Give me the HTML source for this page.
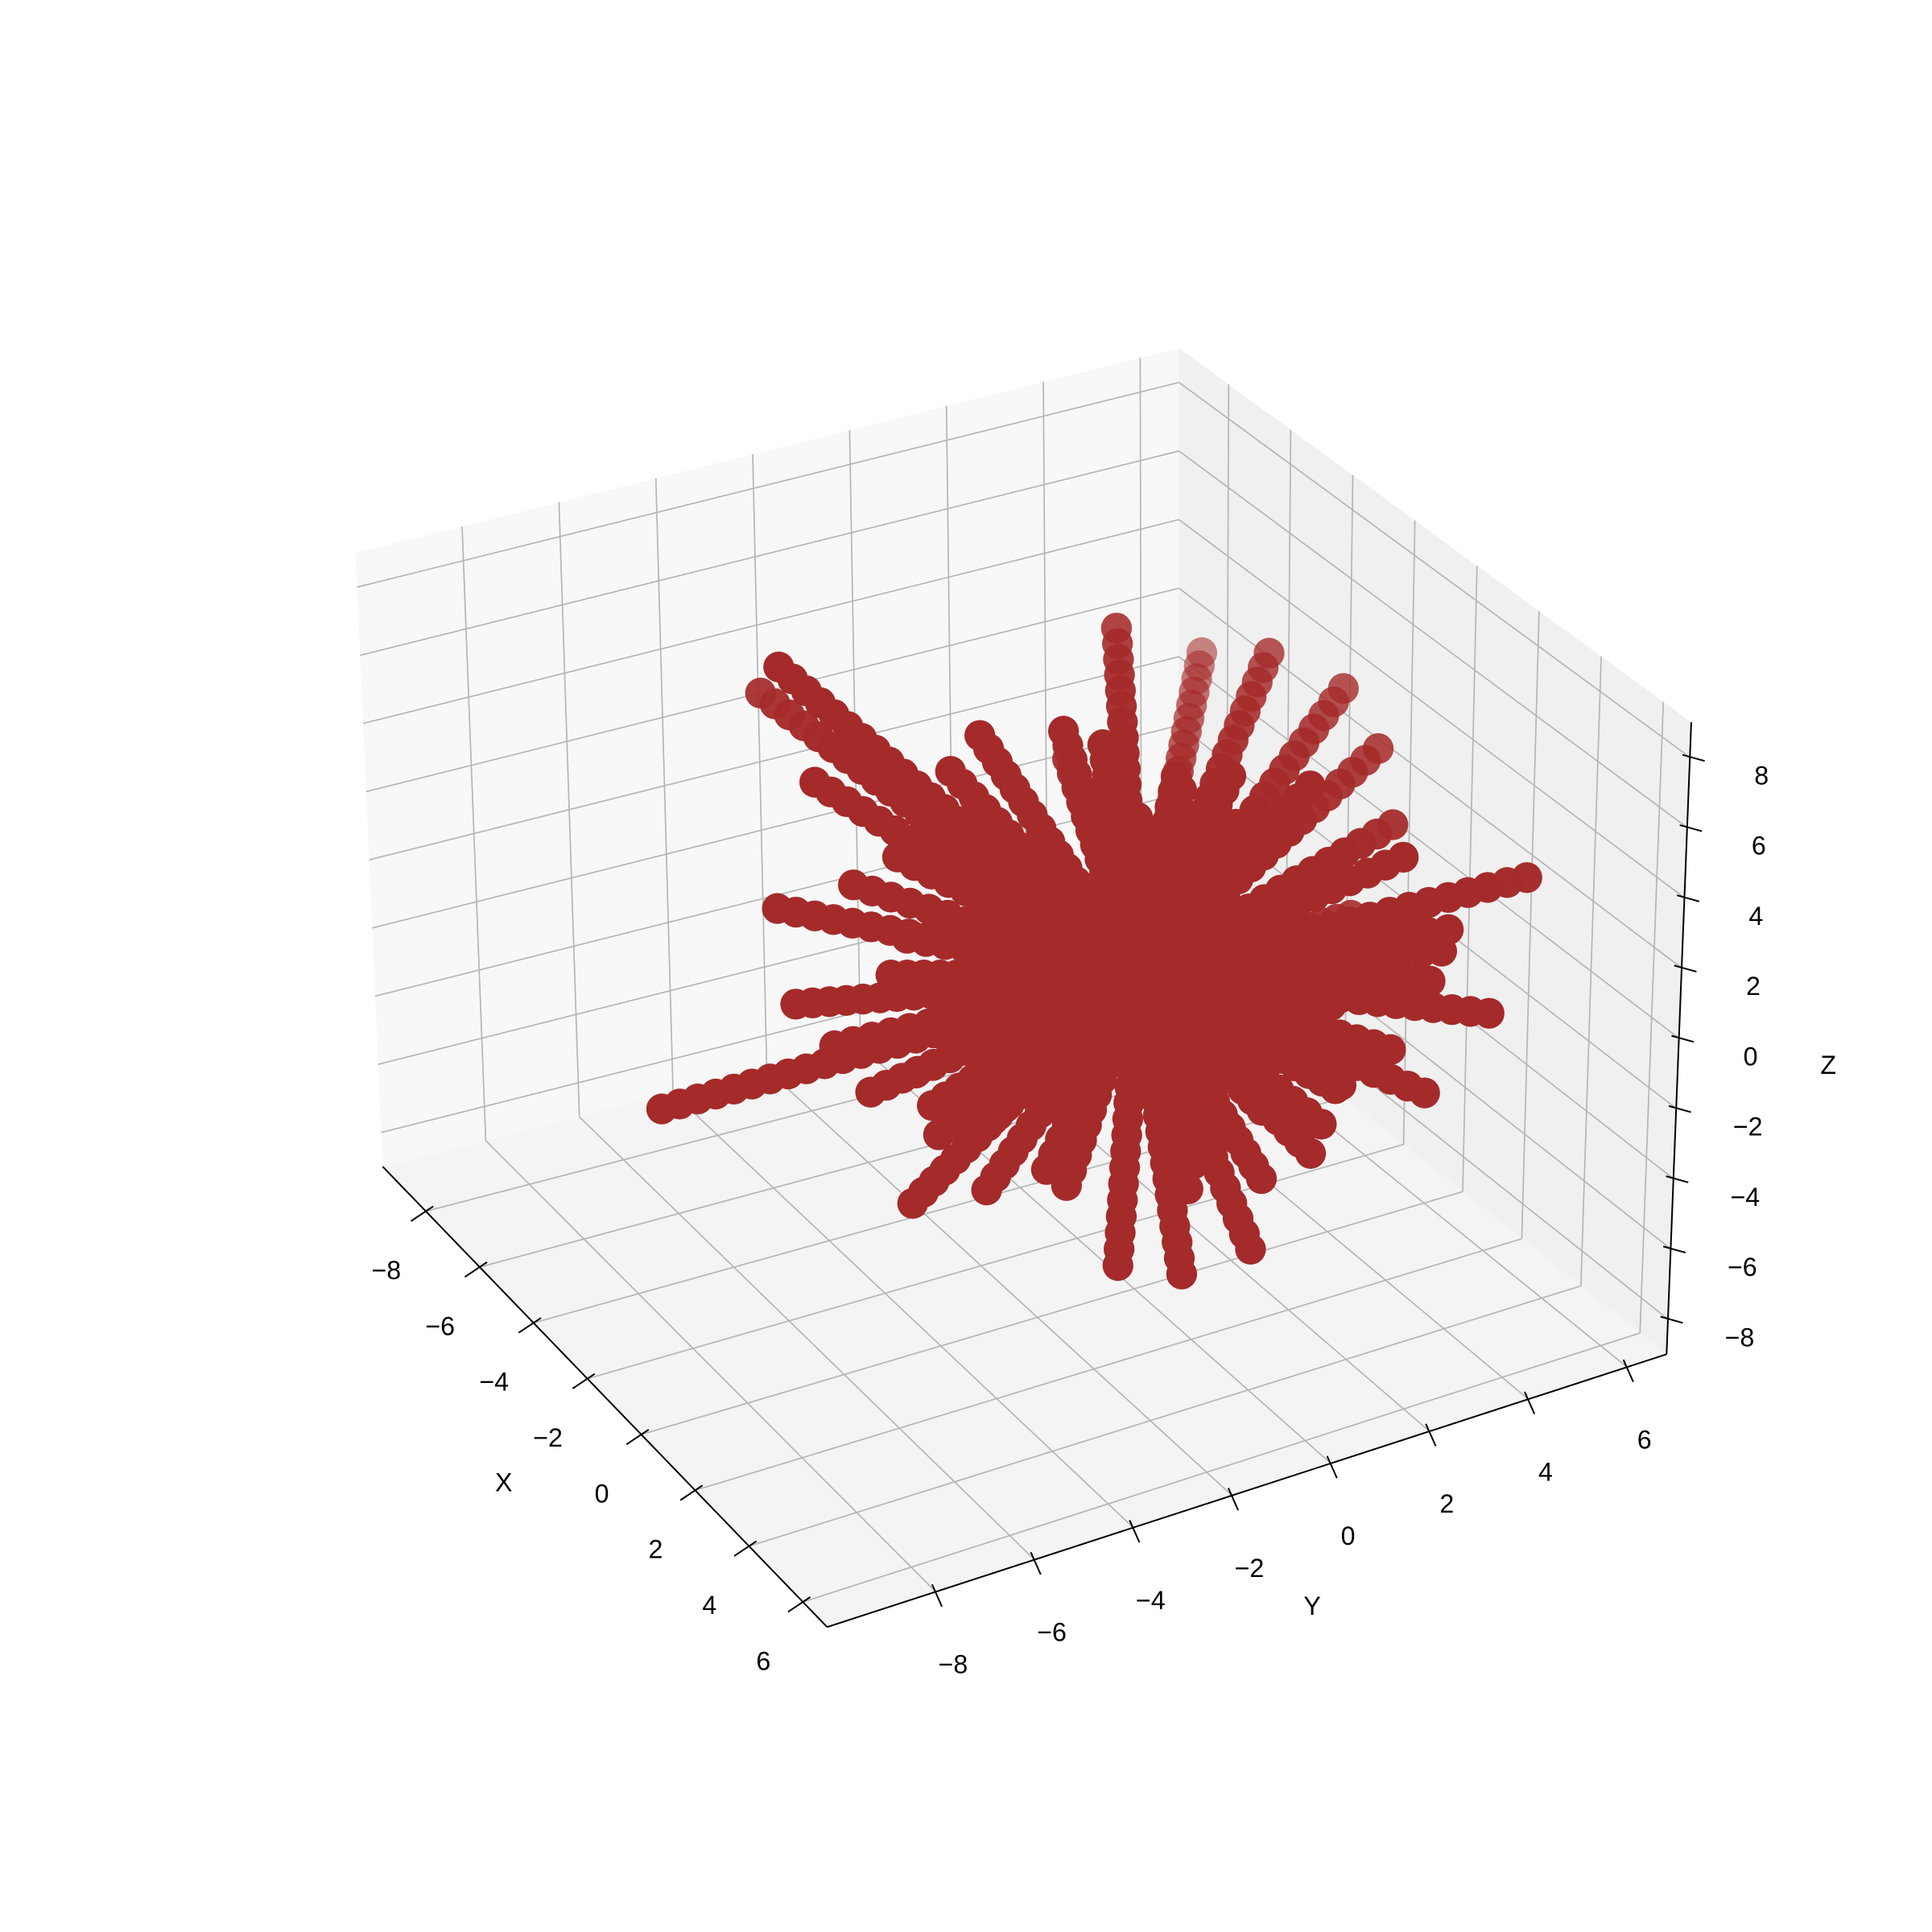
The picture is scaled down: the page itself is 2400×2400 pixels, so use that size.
<!DOCTYPE html>
<html><head><meta charset="utf-8"><style>
html,body{margin:0;padding:0;background:#fff}
svg{display:block}
text{font-family:"Liberation Sans","DejaVu Sans",sans-serif;font-size:21px;fill:#000}
</style></head><body>
<svg id="chart" width="2400" height="2400" viewBox="0 0 1565 1565" xmlns="http://www.w3.org/2000/svg">
<g id="panes"></g>
<g id="grid"></g>
<g id="axes"></g>
<g id="labels"></g>
<g id="points"></g>
<text x="408" y="1208" text-anchor="middle">X</text>
<text x="1063" y="1308" text-anchor="middle">Y</text>
<text x="1481" y="870" text-anchor="middle">Z</text>
</svg>
<script>
// ---- data ----
const xTicks=[-8,-6,-4,-2,0,2,4,6];
const yTicks=[-8,-6,-4,-2,0,2,4,6];
const zTicks=[-8,-6,-4,-2,0,2,4,6,8];
const rayX=[-3,-6,-6,-5,-5,3,4,4,3,2,2,2,2,2,3,0,-1,-2,2,-4,-3,-3,-2,-3,1,2,-6,-8,1,1,1,-4,3,3,
  -2,-1,1,2,-2,0,1,-1,2,-3,0,3,-1,1,-2,2,0,-2,1,-1,3,-3,0,2,-2,1,0,-1,2,-2,3,1,
  -3,-2,2,3,-1,1,0,-4,4,-2,2,-3,3,0,-1,1,-2,2,-4,3,1,-1,0,2,-3,-2,4,1,-1,2,0,-2,3,-3,1,-1];
const rayY=[-8,-3.7,-3,-4.4,-4.05,-6.3,-2.7,-1.4,-4.8,-3,1.4,2.4,6.7,6,4.1,5.2,5.5,5.4,4,2,4.5,-1.4,-0.3,-2,-6,-5.2,5,-2.9,4.8,4.1,5.4,-2.5,-0.7,-3,
  -3,-2,-1,0,1,2,3,3,-3,-1,-4,1,4,-2,3,2,0,-3.5,-3.5,2.5,-1.5,0,4,-0.5,-1,2,-2.5,1.5,3,2.5,0.5,-1.5,
  -4,4,-4,2,-2.5,3.5,-4.5,1,-1,-3,4.5,3,-3,3.5,-4,-2,0.5,-4.5,-1,3.5,4,5,-5,1,-1,2,0,-3,1.5,5,2,-5,4.5,-2,1];
const rayZ=[-2.9,6,2.4,0,-2.9,-1.75,-4.3,-5.1,-2,-2.9,-5,-4.7,1.4,-2.2,-3,2.2,3.6,4.7,-2.4,6.4,5.4,5.3,5.7,4.5,-0.2,-1,3.2,3.5,2.1,-0.8,-1.7,1.5,-3.7,-1.2,
  3,-3,4,-4,-3.5,3.5,0,-3,2,-4,1,3,-1,-3.5,-2,3,4.5,1,-2,4,2,-2.5,-2.5,-1.5,-1,-4,3.5,4,-3,1.5,0.5,2.5,
  2,-2,1,-3,4,-4,-1,3,-2,-4,1,-1,3,4,2,-4.5,5,0,-1,2,-3,-1,2,4.5,-4.5,3.5,-5,1,-2,0,3,-1.5,1.5,-3,-4.5,2.5];

// ---- projection ----
const X0=-9.6,X1=6.9,Y0=-10.2,Y1=6.8,Z0=-9,Z1=9;
const C={ '000':[310,945],'100':[670,1318],'010':[955,782],'110':[1350,1097],
          '001':[288,448],'101':[672,795],'011':[955,282],'111':[1370,585]};
function P(x,y,z){
  const u=(x-X0)/(X1-X0),v=(y-Y0)/(Y1-Y0),w=(z-Z0)/(Z1-Z0);
  let sx=0,sy=0;
  for(const k in C){
    const a=+k[0],b=+k[1],c=+k[2];
    const f=(a?u:1-u)*(b?v:1-v)*(c?w:1-w);
    sx+=f*C[k][0];sy+=f*C[k][1];
  }
  return [sx,sy];
}
const NS='http://www.w3.org/2000/svg';
function el(t,attrs,parent){const e=document.createElementNS(NS,t);for(const k in attrs)e.setAttribute(k,attrs[k]);parent.appendChild(e);return e;}
function poly(pts){return pts.map(p=>p[0].toFixed(1)+','+p[1].toFixed(1)).join(' ');}

const panes=document.getElementById('panes');
let pp=el('polygon',{points:poly([P(X0,Y0,Z0),P(X0,Y1,Z0),P(X0,Y1,Z1),P(X0,Y0,Z1)]),fill:'#f8f8f8'},panes);


pp=el('polygon',{points:poly([P(X0,Y1,Z0),P(X1,Y1,Z0),P(X1,Y1,Z1),P(X0,Y1,Z1)]),fill:'#f0f0f0'},panes);


pp=el('polygon',{points:poly([P(X0,Y0,Z0),P(X1,Y0,Z0),P(X1,Y1,Z0),P(X0,Y1,Z0)]),fill:'#f4f4f4'},panes);



const grid=document.getElementById('grid');
function gl(a,b,name){const p1=P(...a),p2=P(...b);
  const l=el('line',{x1:p1[0],y1:p1[1],x2:p2[0],y2:p2[1],stroke:'#b5b5b5','stroke-width':1.1},grid);
  
  }
yTicks.forEach(y=>{gl([X0,y,Z0],[X0,y,Z1],'grid-left-y');gl([X0,y,Z0],[X1,y,Z0],'grid-floor-y');});
xTicks.forEach(x=>{gl([x,Y1,Z0],[x,Y1,Z1],'grid-right-x');gl([x,Y0,Z0],[x,Y1,Z0],'grid-floor-x');});
zTicks.forEach(z=>{gl([X0,Y0,z],[X0,Y1,z],'grid-left-z');gl([X0,Y1,z],[X1,Y1,z],'grid-right-z');});

const axes=document.getElementById('axes');
function al(p1,p2,name,w){const l=el('line',{x1:p1[0],y1:p1[1],x2:p2[0],y2:p2[1],stroke:'#000','stroke-width':w||1.3},axes);
  
  }
al(P(X0,Y0,Z0),P(X1,Y0,Z0),'x-axis-line');
al(P(X1,Y0,Z0),P(X1,Y1,Z0),'y-axis-line');
al(P(X1,Y1,Z0),P(X1,Y1,Z1),'z-axis-line');
const labels=document.getElementById('labels');
function lab(p,txt,name){const t=el('text',{x:p[0].toFixed(1),y:p[1].toFixed(1),'text-anchor':'middle'},labels);t.textContent=txt;
  
  }
function fmt(v){return v<0?'\u2212'+Math.abs(v):String(v);}
xTicks.forEach(x=>{const p=P(x,Y0,Z0);al([p[0]+6,p[1]-4],[p[0]-12,p[1]+8],'x-tick');lab([p[0]-32,p[1]+55],fmt(x),'x-tick-label');});
yTicks.forEach(y=>{const p=P(X1,y,Z0);al([p[0]-3,p[1]-6],[p[0]+5,p[1]+12],'y-tick');lab([p[0]+14,p[1]+66],fmt(y),'y-tick-label');});
zTicks.forEach(z=>{const p=P(X1,Y1,z);al([p[0]-6,p[1]-2],[p[0]+12,p[1]+3],'z-tick');lab([p[0]+58,p[1]+22],fmt(z),'z-tick-label');});

// ---- scatter points along rays from origin ----
const pts=[];
for(let i=0;i<rayX.length;i++){
  const L=Math.hypot(rayX[i],rayY[i],rayZ[i]);
  const n=Math.max(2,Math.round(L/0.35));
  for(let k=0;k<=n;k++){const t=k/n;pts.push([rayX[i]*t,rayY[i]*t,rayZ[i]*t]);}
}
function near(p){return 0.5*((p[0]-X0)/(X1-X0))+0.5*((Y1-p[1])/(Y1-Y0));}
pts.sort((a,b)=>near(a)-near(b));
const pg=document.getElementById('points');
pts.forEach(p=>{const s=P(...p);const nr=near(p);
  const a=Math.min(1,Math.max(0.3,0.2+2.2*nr));
  const c=el('circle',{cx:s[0].toFixed(1),cy:s[1].toFixed(1),r:12.5,fill:'#a52a2a','fill-opacity':a.toFixed(2)},pg);
  
  
});
</script>
</body></html>
